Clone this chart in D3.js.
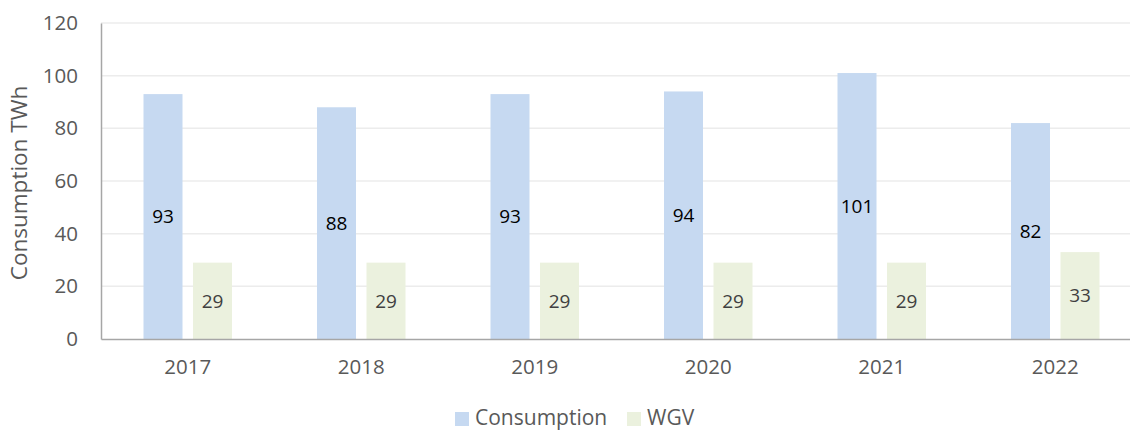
<!DOCTYPE html>
<html>
<head>
<meta charset="utf-8">
<script src="https://cdn.jsdelivr.net/npm/d3@7"></script>
<style>
  html, body { margin: 0; padding: 0; background: #fff; }
  svg { display: block; font-family: "Open Sans", "Noto Sans", sans-serif; }
</style>
</head>
<body>
<svg id="chart" width="1130" height="431"></svg>
<script>
// Annual electricity consumption vs. WGV, in TWh
const years = ["2017", "2018", "2019", "2020", "2021", "2022"];
const consumption = [93, 88, 93, 94, 101, 82];
const wgv = [29, 29, 29, 29, 29, 33];
const yTicks = [0, 20, 40, 60, 80, 100, 120];
const seriesNames = ["Consumption", "WGV"];
const seriesColors = ["#c6d9f1", "#ebf1de"];
const labelColors = ["#000000", "#404040"];

const svg = d3.select("#chart");
const plotLeft = 101, plotRight = 1142, plotTop = 23, plotBottom = 339;

const x = d3.scaleBand().domain(years).range([plotLeft, plotRight]).paddingInner(0).paddingOuter(0);
const y = d3.scaleLinear().domain([0, 120]).range([plotBottom, plotTop]);
const barW = 39, gap = 10.5;

// horizontal gridlines
svg.append("g")
  .selectAll("line")
  .data(yTicks.filter(d => d > 0))
  .join("line")
  .attr("x1", plotLeft).attr("x2", plotRight)
  .attr("y1", d => y(d)).attr("y2", d => y(d))
  .attr("stroke", "#ececec").attr("stroke-width", 1.5);

// y axis
const yAxis = svg.append("g")
  .attr("transform", `translate(${plotLeft},0)`)
  .call(d3.axisLeft(y).tickValues(yTicks).tickSize(0).tickPadding(23));
yAxis.select(".domain").attr("stroke", "#a6a6a6").attr("stroke-width", 1.5);
yAxis.selectAll("text")
  .attr("fill", "#595959").attr("font-size", "20.5px")
  .attr("font-family", "'Open Sans', sans-serif");

// bars
const series = [consumption, wgv];
series.forEach((vals, si) => {
  const offset = si === 0 ? -(barW + gap) / 2 : (barW + gap) / 2;
  const g = svg.append("g");
  g.selectAll("rect")
    .data(vals)
    .join("rect")
    .attr("x", (d, i) => x(years[i]) + x.bandwidth() / 2 + offset - barW / 2)
    .attr("y", d => y(d))
    .attr("width", barW)
    .attr("height", d => y(0) - y(d))
    .attr("fill", seriesColors[si]);
  g.selectAll("text")
    .data(vals)
    .join("text")
    .attr("x", (d, i) => x(years[i]) + x.bandwidth() / 2 + offset)
    .attr("y", d => (y(d) + y(0)) / 2)
    .attr("dy", "0.36em")
    .attr("text-anchor", "middle")
    .attr("font-size", "19px")
    .attr("fill", labelColors[si])
    .text(d => d);
});

// x axis
const xAxis = svg.append("g")
  .attr("transform", `translate(0,${plotBottom})`)
  .call(d3.axisBottom(x).tickSize(0).tickPadding(20));
xAxis.select(".domain").attr("stroke", "#a6a6a6").attr("stroke-width", 1.5);
xAxis.selectAll("text")
  .attr("fill", "#595959").attr("font-size", "20.5px")
  .attr("font-family", "'Open Sans', sans-serif");

// y axis title
svg.append("text")
  .attr("transform", `translate(27,${(plotTop + plotBottom) / 2 + 2}) rotate(-90)`)
  .attr("text-anchor", "middle")
  .attr("font-size", "22.5px")
  .attr("fill", "#595959")
  .text("Consumption TWh");

// legend
const legendItems = [
  { name: seriesNames[0], color: seriesColors[0], x: 455 },
  { name: seriesNames[1], color: seriesColors[1], x: 627 }
];
const lg = svg.append("g");
legendItems.forEach(it => {
  lg.append("rect").attr("x", it.x).attr("y", 412).attr("width", 14).attr("height", 14).attr("fill", it.color);
  lg.append("text").attr("x", it.x + 20).attr("y", 425)
    .attr("font-size", "21px").attr("fill", "#595959").text(it.name);
});
</script>
</body>
</html>
